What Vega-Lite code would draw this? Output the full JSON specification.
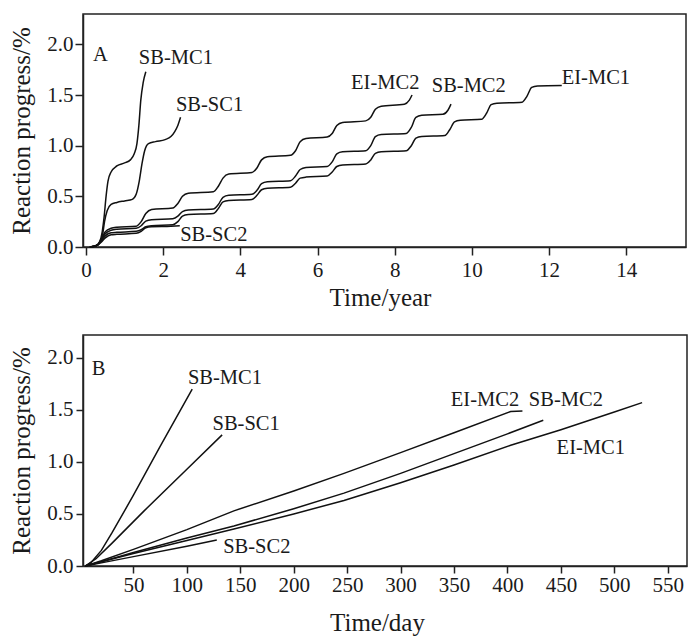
{
  "$schema": "https://vega.github.io/schema/vega-lite/v6.json",
  "padding": {"left": 9, "top": 13, "right": 1, "bottom": 0},
  "config": {
    "font": "Liberation Serif",
    "view": {"stroke": "#222", "strokeWidth": 1.5},
    "axis": {"grid": false, "labelFont": "Liberation Serif", "titleFont": "Liberation Serif", "labelFontSize": 21, "titleFontSize": 25, "titleFontWeight": "normal", "labelColor": "#1a1a1a", "titleColor": "#1a1a1a", "domainColor": "#222", "tickColor": "#222", "domainWidth": 1.5, "tickWidth": 1.5, "labelFlush": false, "labelOverlap": false},
    "text": {"font": "Liberation Serif", "fontSize": 20.5, "color": "#1a1a1a"}
  },
  "align": "all",
  "columns": 1,
  "spacing": 19,
  "concat": [
    {
      "width": 603, "height": 233,
      "layer": [
        {
          "data": {"name": "yearA"},
          "mark": {"type": "line", "interpolate": "monotone", "color": "#111", "strokeWidth": 1.5},
          "encoding": {
            "x": {"field": "t", "type": "quantitative", "scale": {"domain": [-0.078, 15.55], "nice": false, "zero": false},
                  "axis": {"title": "Time/year", "values": [0, 2, 4, 6, 8, 10, 12, 14], "format": "d", "tickSize": 8, "labelPadding": 4, "titlePadding": 5, "titleX": 297, "labelFont": "Liberation Serif", "labelFontSize": 21}},
            "y": {"field": "v", "type": "quantitative", "scale": {"domain": [0, 2.3], "nice": false},
                  "axis": {"title": "Reaction progress/%", "values": [0, 0.5, 1, 1.5, 2], "format": ".1f", "tickSize": 8, "labelPadding": 2, "titlePadding": 12, "labelFont": "Liberation Serif", "labelFontSize": 21}},
            "detail": {"field": "series"}
          }
        },
        {
          "data": {"name": "labelsA"},
          "mark": {"type": "text", "align": "left", "baseline": "middle"},
          "encoding": {
            "x": {"field": "x", "type": "quantitative"},
            "y": {"field": "y", "type": "quantitative"},
            "text": {"field": "label"}
          }
        }
      ]
    },
    {
      "width": 604, "height": 231,
      "layer": [
        {
          "data": {"name": "dayB"},
          "mark": {"type": "line", "interpolate": "linear", "color": "#111", "strokeWidth": 1.5},
          "encoding": {
            "x": {"field": "d", "type": "quantitative", "scale": {"domain": [2.8, 568], "nice": false, "zero": false},
                  "axis": {"title": "Time/day", "values": [50, 100, 150, 200, 250, 300, 350, 400, 450, 500, 550], "format": "d", "tickSize": 7, "labelPadding": 1, "titlePadding": 15, "titleX": 294, "labelFont": "Liberation Serif", "labelFontSize": 21}},
            "y": {"field": "v", "type": "quantitative", "scale": {"domain": [0, 2.22], "nice": false},
                  "axis": {"title": "Reaction progress/%", "values": [0, 0.5, 1, 1.5, 2], "format": ".1f", "tickSize": 7, "labelPadding": 3, "titlePadding": 12, "labelFont": "Liberation Serif", "labelFontSize": 21}},
            "detail": {"field": "series"}
          }
        },
        {
          "data": {"name": "labelsB"},
          "mark": {"type": "text", "align": "left", "baseline": "middle"},
          "encoding": {
            "x": {"field": "x", "type": "quantitative"},
            "y": {"field": "y", "type": "quantitative"},
            "text": {"field": "label"}
          }
        }
      ]
    }
  ],
  "datasets": {
    "labelsA": [
      {"label": "A", "x": 0.18, "y": 1.9},
      {"label": "SB-MC1", "x": 1.37, "y": 1.87},
      {"label": "SB-SC1", "x": 2.33, "y": 1.4},
      {"label": "SB-SC2", "x": 2.44, "y": 0.12},
      {"label": "EI-MC2", "x": 6.87, "y": 1.62},
      {"label": "SB-MC2", "x": 8.96, "y": 1.59},
      {"label": "EI-MC1", "x": 12.33, "y": 1.67}
    ],
    "labelsB": [
      {"label": "B", "x": 11, "y": 1.89},
      {"label": "SB-MC1", "x": 101, "y": 1.81},
      {"label": "SB-SC1", "x": 124, "y": 1.36},
      {"label": "SB-SC2", "x": 134, "y": 0.18},
      {"label": "EI-MC2", "x": 347, "y": 1.6},
      {"label": "SB-MC2", "x": 420, "y": 1.6},
      {"label": "EI-MC1", "x": 446, "y": 1.13}
    ],
    "yearA": [
      {"series": "SB-MC1", "t": 0.1, "v": 0},
      {"series": "SB-MC1", "t": 0.25, "v": 0.01},
      {"series": "SB-MC1", "t": 0.35, "v": 0.05},
      {"series": "SB-MC1", "t": 0.42, "v": 0.15},
      {"series": "SB-MC1", "t": 0.47, "v": 0.3},
      {"series": "SB-MC1", "t": 0.52, "v": 0.5},
      {"series": "SB-MC1", "t": 0.57, "v": 0.65},
      {"series": "SB-MC1", "t": 0.65, "v": 0.74},
      {"series": "SB-MC1", "t": 0.8, "v": 0.8},
      {"series": "SB-MC1", "t": 1.0, "v": 0.83},
      {"series": "SB-MC1", "t": 1.15, "v": 0.86},
      {"series": "SB-MC1", "t": 1.25, "v": 0.92},
      {"series": "SB-MC1", "t": 1.32, "v": 1.02},
      {"series": "SB-MC1", "t": 1.37, "v": 1.2},
      {"series": "SB-MC1", "t": 1.42, "v": 1.45},
      {"series": "SB-MC1", "t": 1.48, "v": 1.62},
      {"series": "SB-MC1", "t": 1.55, "v": 1.73},

      {"series": "SB-SC1", "t": 0.1, "v": 0},
      {"series": "SB-SC1", "t": 0.25, "v": 0.01},
      {"series": "SB-SC1", "t": 0.35, "v": 0.04},
      {"series": "SB-SC1", "t": 0.43, "v": 0.12},
      {"series": "SB-SC1", "t": 0.48, "v": 0.25},
      {"series": "SB-SC1", "t": 0.55, "v": 0.36},
      {"series": "SB-SC1", "t": 0.65, "v": 0.42},
      {"series": "SB-SC1", "t": 0.8, "v": 0.44},
      {"series": "SB-SC1", "t": 1.0, "v": 0.455},
      {"series": "SB-SC1", "t": 1.2, "v": 0.47},
      {"series": "SB-SC1", "t": 1.3, "v": 0.52},
      {"series": "SB-SC1", "t": 1.38, "v": 0.65},
      {"series": "SB-SC1", "t": 1.45, "v": 0.82},
      {"series": "SB-SC1", "t": 1.52, "v": 0.95},
      {"series": "SB-SC1", "t": 1.62, "v": 1.02},
      {"series": "SB-SC1", "t": 1.8, "v": 1.04},
      {"series": "SB-SC1", "t": 2.05, "v": 1.06},
      {"series": "SB-SC1", "t": 2.2, "v": 1.09},
      {"series": "SB-SC1", "t": 2.3, "v": 1.14},
      {"series": "SB-SC1", "t": 2.38, "v": 1.2},
      {"series": "SB-SC1", "t": 2.45, "v": 1.28},

      {"series": "SB-SC2", "t": 0.1, "v": 0},
      {"series": "SB-SC2", "t": 0.3, "v": 0.02},
      {"series": "SB-SC2", "t": 0.4, "v": 0.05},
      {"series": "SB-SC2", "t": 0.5, "v": 0.09},
      {"series": "SB-SC2", "t": 0.65, "v": 0.12},
      {"series": "SB-SC2", "t": 0.8, "v": 0.125},
      {"series": "SB-SC2", "t": 1.3, "v": 0.135},
      {"series": "SB-SC2", "t": 1.43, "v": 0.155},
      {"series": "SB-SC2", "t": 1.55, "v": 0.19},
      {"series": "SB-SC2", "t": 1.7, "v": 0.2},
      {"series": "SB-SC2", "t": 2.2, "v": 0.205},
      {"series": "SB-SC2", "t": 2.43, "v": 0.21},

      {"series": "EI-MC2", "t": 0.1, "v": 0},
      {"series": "EI-MC2", "t": 0.3, "v": 0.02},
      {"series": "EI-MC2", "t": 0.4, "v": 0.08},
      {"series": "EI-MC2", "t": 0.5, "v": 0.15},
      {"series": "EI-MC2", "t": 0.65, "v": 0.185},
      {"series": "EI-MC2", "t": 0.8, "v": 0.195},
      {"series": "EI-MC2", "t": 1.3, "v": 0.205},
      {"series": "EI-MC2", "t": 1.43, "v": 0.25},
      {"series": "EI-MC2", "t": 1.55, "v": 0.33},
      {"series": "EI-MC2", "t": 1.7, "v": 0.37},
      {"series": "EI-MC2", "t": 2.25, "v": 0.385},
      {"series": "EI-MC2", "t": 2.38, "v": 0.43},
      {"series": "EI-MC2", "t": 2.5, "v": 0.5},
      {"series": "EI-MC2", "t": 2.65, "v": 0.53},
      {"series": "EI-MC2", "t": 3.3, "v": 0.545},
      {"series": "EI-MC2", "t": 3.43, "v": 0.6},
      {"series": "EI-MC2", "t": 3.55, "v": 0.68},
      {"series": "EI-MC2", "t": 3.7, "v": 0.72},
      {"series": "EI-MC2", "t": 4.3, "v": 0.735},
      {"series": "EI-MC2", "t": 4.43, "v": 0.78},
      {"series": "EI-MC2", "t": 4.55, "v": 0.86},
      {"series": "EI-MC2", "t": 4.7, "v": 0.89},
      {"series": "EI-MC2", "t": 5.3, "v": 0.905},
      {"series": "EI-MC2", "t": 5.43, "v": 0.95},
      {"series": "EI-MC2", "t": 5.55, "v": 1.04},
      {"series": "EI-MC2", "t": 5.7, "v": 1.07},
      {"series": "EI-MC2", "t": 6.25, "v": 1.085},
      {"series": "EI-MC2", "t": 6.38, "v": 1.12},
      {"series": "EI-MC2", "t": 6.5, "v": 1.2},
      {"series": "EI-MC2", "t": 6.65, "v": 1.23},
      {"series": "EI-MC2", "t": 7.25, "v": 1.245},
      {"series": "EI-MC2", "t": 7.38, "v": 1.28},
      {"series": "EI-MC2", "t": 7.5, "v": 1.36},
      {"series": "EI-MC2", "t": 7.65, "v": 1.39},
      {"series": "EI-MC2", "t": 8.25, "v": 1.41},
      {"series": "EI-MC2", "t": 8.38, "v": 1.45},
      {"series": "EI-MC2", "t": 8.45, "v": 1.5},

      {"series": "SB-MC2", "t": 0.1, "v": 0},
      {"series": "SB-MC2", "t": 0.3, "v": 0.02},
      {"series": "SB-MC2", "t": 0.4, "v": 0.07},
      {"series": "SB-MC2", "t": 0.5, "v": 0.13},
      {"series": "SB-MC2", "t": 0.65, "v": 0.165},
      {"series": "SB-MC2", "t": 0.8, "v": 0.175},
      {"series": "SB-MC2", "t": 1.3, "v": 0.185},
      {"series": "SB-MC2", "t": 1.43, "v": 0.21},
      {"series": "SB-MC2", "t": 1.55, "v": 0.255},
      {"series": "SB-MC2", "t": 1.7, "v": 0.27},
      {"series": "SB-MC2", "t": 2.25, "v": 0.28},
      {"series": "SB-MC2", "t": 2.38, "v": 0.305},
      {"series": "SB-MC2", "t": 2.5, "v": 0.35},
      {"series": "SB-MC2", "t": 2.65, "v": 0.365},
      {"series": "SB-MC2", "t": 3.3, "v": 0.375},
      {"series": "SB-MC2", "t": 3.43, "v": 0.42},
      {"series": "SB-MC2", "t": 3.55, "v": 0.49},
      {"series": "SB-MC2", "t": 3.7, "v": 0.51},
      {"series": "SB-MC2", "t": 4.3, "v": 0.52},
      {"series": "SB-MC2", "t": 4.43, "v": 0.56},
      {"series": "SB-MC2", "t": 4.55, "v": 0.625},
      {"series": "SB-MC2", "t": 4.7, "v": 0.645},
      {"series": "SB-MC2", "t": 5.3, "v": 0.655},
      {"series": "SB-MC2", "t": 5.43, "v": 0.7},
      {"series": "SB-MC2", "t": 5.55, "v": 0.765},
      {"series": "SB-MC2", "t": 5.7, "v": 0.785},
      {"series": "SB-MC2", "t": 6.25, "v": 0.795},
      {"series": "SB-MC2", "t": 6.38, "v": 0.84},
      {"series": "SB-MC2", "t": 6.5, "v": 0.92},
      {"series": "SB-MC2", "t": 6.65, "v": 0.94},
      {"series": "SB-MC2", "t": 7.25, "v": 0.95},
      {"series": "SB-MC2", "t": 7.38, "v": 1.0},
      {"series": "SB-MC2", "t": 7.5, "v": 1.09},
      {"series": "SB-MC2", "t": 7.65, "v": 1.11},
      {"series": "SB-MC2", "t": 8.3, "v": 1.12},
      {"series": "SB-MC2", "t": 8.43, "v": 1.18},
      {"series": "SB-MC2", "t": 8.55, "v": 1.28},
      {"series": "SB-MC2", "t": 8.7, "v": 1.3},
      {"series": "SB-MC2", "t": 9.25, "v": 1.31},
      {"series": "SB-MC2", "t": 9.38, "v": 1.35},
      {"series": "SB-MC2", "t": 9.46, "v": 1.41},

      {"series": "EI-MC1", "t": 0.1, "v": 0},
      {"series": "EI-MC1", "t": 0.3, "v": 0.02},
      {"series": "EI-MC1", "t": 0.4, "v": 0.06},
      {"series": "EI-MC1", "t": 0.5, "v": 0.11},
      {"series": "EI-MC1", "t": 0.65, "v": 0.14},
      {"series": "EI-MC1", "t": 0.8, "v": 0.145},
      {"series": "EI-MC1", "t": 1.3, "v": 0.155},
      {"series": "EI-MC1", "t": 1.43, "v": 0.17},
      {"series": "EI-MC1", "t": 1.55, "v": 0.2},
      {"series": "EI-MC1", "t": 1.7, "v": 0.21},
      {"series": "EI-MC1", "t": 2.25, "v": 0.22},
      {"series": "EI-MC1", "t": 2.38, "v": 0.25},
      {"series": "EI-MC1", "t": 2.5, "v": 0.305},
      {"series": "EI-MC1", "t": 2.65, "v": 0.32},
      {"series": "EI-MC1", "t": 3.3, "v": 0.33},
      {"series": "EI-MC1", "t": 3.43, "v": 0.38},
      {"series": "EI-MC1", "t": 3.55, "v": 0.445},
      {"series": "EI-MC1", "t": 3.7, "v": 0.46},
      {"series": "EI-MC1", "t": 4.3, "v": 0.47},
      {"series": "EI-MC1", "t": 4.43, "v": 0.51},
      {"series": "EI-MC1", "t": 4.55, "v": 0.565},
      {"series": "EI-MC1", "t": 4.7, "v": 0.58},
      {"series": "EI-MC1", "t": 5.3, "v": 0.59},
      {"series": "EI-MC1", "t": 5.43, "v": 0.63},
      {"series": "EI-MC1", "t": 5.55, "v": 0.68},
      {"series": "EI-MC1", "t": 5.7, "v": 0.69},
      {"series": "EI-MC1", "t": 6.25, "v": 0.7},
      {"series": "EI-MC1", "t": 6.38, "v": 0.74},
      {"series": "EI-MC1", "t": 6.5, "v": 0.795},
      {"series": "EI-MC1", "t": 6.65, "v": 0.81},
      {"series": "EI-MC1", "t": 7.25, "v": 0.82},
      {"series": "EI-MC1", "t": 7.38, "v": 0.86},
      {"series": "EI-MC1", "t": 7.5, "v": 0.925},
      {"series": "EI-MC1", "t": 7.65, "v": 0.94},
      {"series": "EI-MC1", "t": 8.3, "v": 0.95},
      {"series": "EI-MC1", "t": 8.43, "v": 1.0},
      {"series": "EI-MC1", "t": 8.55, "v": 1.075},
      {"series": "EI-MC1", "t": 8.7, "v": 1.09},
      {"series": "EI-MC1", "t": 9.3, "v": 1.1},
      {"series": "EI-MC1", "t": 9.43, "v": 1.16},
      {"series": "EI-MC1", "t": 9.55, "v": 1.235},
      {"series": "EI-MC1", "t": 9.7, "v": 1.25},
      {"series": "EI-MC1", "t": 10.25, "v": 1.26},
      {"series": "EI-MC1", "t": 10.38, "v": 1.32},
      {"series": "EI-MC1", "t": 10.5, "v": 1.405},
      {"series": "EI-MC1", "t": 10.65, "v": 1.42},
      {"series": "EI-MC1", "t": 11.3, "v": 1.43},
      {"series": "EI-MC1", "t": 11.43, "v": 1.49},
      {"series": "EI-MC1", "t": 11.55, "v": 1.575},
      {"series": "EI-MC1", "t": 11.7, "v": 1.59},
      {"series": "EI-MC1", "t": 12.33, "v": 1.595}
    ],
    "dayB": [
      {"series": "SB-MC1", "d": 5, "v": 0},
      {"series": "SB-MC1", "d": 10, "v": 0.03},
      {"series": "SB-MC1", "d": 20, "v": 0.15},
      {"series": "SB-MC1", "d": 30, "v": 0.32},
      {"series": "SB-MC1", "d": 50, "v": 0.68},
      {"series": "SB-MC1", "d": 75, "v": 1.15},
      {"series": "SB-MC1", "d": 105, "v": 1.7},

      {"series": "SB-SC1", "d": 5, "v": 0},
      {"series": "SB-SC1", "d": 15, "v": 0.07},
      {"series": "SB-SC1", "d": 30, "v": 0.22},
      {"series": "SB-SC1", "d": 60, "v": 0.53},
      {"series": "SB-SC1", "d": 100, "v": 0.93},
      {"series": "SB-SC1", "d": 133, "v": 1.26},

      {"series": "SB-SC2", "d": 5, "v": 0},
      {"series": "SB-SC2", "d": 20, "v": 0.03},
      {"series": "SB-SC2", "d": 50, "v": 0.09},
      {"series": "SB-SC2", "d": 100, "v": 0.19},
      {"series": "SB-SC2", "d": 128, "v": 0.25},

      {"series": "EI-MC2", "d": 5, "v": 0},
      {"series": "EI-MC2", "d": 20, "v": 0.05},
      {"series": "EI-MC2", "d": 50, "v": 0.16},
      {"series": "EI-MC2", "d": 100, "v": 0.35},
      {"series": "EI-MC2", "d": 144, "v": 0.53},
      {"series": "EI-MC2", "d": 200, "v": 0.72},
      {"series": "EI-MC2", "d": 247, "v": 0.89},
      {"series": "EI-MC2", "d": 300, "v": 1.09},
      {"series": "EI-MC2", "d": 350, "v": 1.28},
      {"series": "EI-MC2", "d": 403, "v": 1.485},
      {"series": "EI-MC2", "d": 414, "v": 1.49},

      {"series": "SB-MC2", "d": 5, "v": 0},
      {"series": "SB-MC2", "d": 20, "v": 0.04},
      {"series": "SB-MC2", "d": 50, "v": 0.13},
      {"series": "SB-MC2", "d": 100, "v": 0.27},
      {"series": "SB-MC2", "d": 144, "v": 0.385},
      {"series": "SB-MC2", "d": 200, "v": 0.55},
      {"series": "SB-MC2", "d": 247, "v": 0.7},
      {"series": "SB-MC2", "d": 300, "v": 0.89},
      {"series": "SB-MC2", "d": 350, "v": 1.08},
      {"series": "SB-MC2", "d": 400, "v": 1.27},
      {"series": "SB-MC2", "d": 433.5, "v": 1.4},

      {"series": "EI-MC1", "d": 5, "v": 0},
      {"series": "EI-MC1", "d": 20, "v": 0.04},
      {"series": "EI-MC1", "d": 50, "v": 0.12},
      {"series": "EI-MC1", "d": 100, "v": 0.245},
      {"series": "EI-MC1", "d": 144, "v": 0.355},
      {"series": "EI-MC1", "d": 200, "v": 0.5},
      {"series": "EI-MC1", "d": 247, "v": 0.63},
      {"series": "EI-MC1", "d": 300, "v": 0.8},
      {"series": "EI-MC1", "d": 350, "v": 0.97},
      {"series": "EI-MC1", "d": 403, "v": 1.16},
      {"series": "EI-MC1", "d": 450, "v": 1.31},
      {"series": "EI-MC1", "d": 500, "v": 1.48},
      {"series": "EI-MC1", "d": 526, "v": 1.57}
    ]
  }
}
